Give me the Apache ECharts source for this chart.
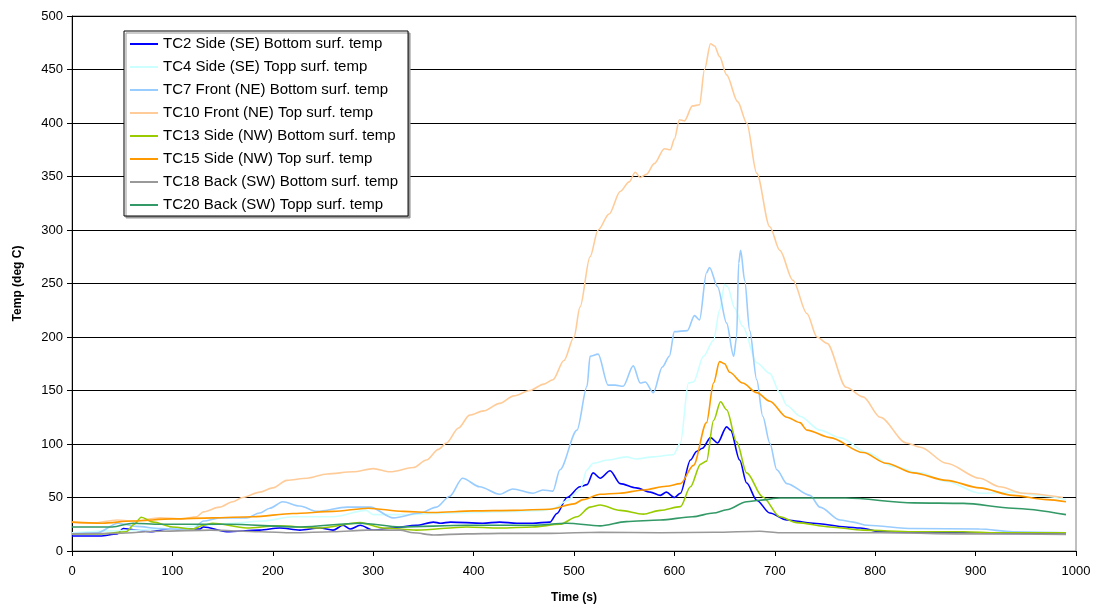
<!DOCTYPE html>
<html>
<head>
<meta charset="utf-8">
<script src="https://cdn.jsdelivr.net/npm/echarts@6/dist/echarts.min.js"></script>
<style>html,body{margin:0;padding:0;background:#fff}#c{width:1097px;height:611px}</style>
</head>
<body>
<div id="c"></div>
<script>
// Series names
const names = [
  'TC2 Side (SE) Bottom surf. temp',
  'TC4 Side (SE) Topp surf. temp',
  'TC7 Front (NE) Bottom surf. temp',
  'TC10 Front (NE) Top surf. temp',
  'TC13 Side (NW) Bottom surf. temp',
  'TC15 Side (NW) Top surf. temp',
  'TC18 Back (SW) Bottom surf. temp',
  'TC20 Back (SW) Topp surf. temp'
];

// TC2
const tc2T = [0,28,45,51,64,78,98,127,131,154,187,207,227,247,260,270,277,287,300,320,343,360,367,377,409,426,443,459,476,483,493,506,513,519,526,536,546,562,576,586,592,600,606,616,622,628,636,643,652,656,665,672,682,695,712,738,771,785,805,871,937,990];
const tc2V = [14,14,16,21,19.5,18,21,20.5,22.5,18,19.5,21.5,19.5,21.5,19.5,24,20.5,24,19.5,21.5,24,27,26,27,26,27,26,26,27,35,50,60,62,73,68,75,63,59,55,52,55,50,54,85,93,96,106,101,116,113,85,63.5,47.5,35.5,29,26,22.5,21.5,18,17,16.5,16];
// TC4
const tc4T = [0,50,100,130,160,190,220,260,293,300,330,360,400,440,470,480,493,506,513,519,533,552,562,579,599,606,614,619,629,639,645,650,653,660,668,682,695,705,712,725,745,765,792,818,845,871,904,937,971,990];
const tc4V = [17,19,21,24,26,28,32,32,38,34,34,35,36,37,38,40,47,57,76,82,85,88,86,88,90,101,157,158,182,197,225,249,247,227,210,176,166,148,136,126,113,106,92,79,73,65,54,55,51,48];
// TC7
const tc7T = [0,25,46,64,88,120,131,147,174,187,197,210,227,244,274,297,320,347,363,376,389,406,426,439,459,469,479,486,503,513,516,524,534,541,549,559,566,571,579,588,595,600,613,620,625,632,635,643,652,659,662,664,666,670,675,682,688,695,702,712,735,745,765,778,792,838,904,937,990];
const tc7V = [16,17,26,23,21,20,28,31,31,35.5,40,46,42,37,41,41,31,35.5,41,51,68,60,53,58,54,57,56,76,113,154,182,184,155,155,154,173,157,158,148,172,182,205,206,220,216,260,265,247,213,182,200,269,281,253,206,160,126,101,76,63,52,41,29,27,24,21,20.5,18,17];
// TC10
const tc10T = [0,20,45,60,88,110,124,131,147,160,170,187,200,214,234,254,280,300,317,340,353,365,373,385,396,410,426,440,456,470,479,490,500,506,516,524,535,546,555,561,566,572,580,590,596,600,605,610,618,625,630,636,640,645,652,663,672,682,695,705,718,732,742,752,771,788,805,831,845,871,904,924,947,987];
const tc10V = [27,26,29,28,31,30,32,36.6,41,46,50,55,59,66,68,72,74,77,74,78,85,95,101,115,127,131,138,145,150,156,160,178,200,228,275,300,315,336,345,354,349,352,362,376,375,385,403,402,416,417,450,474,472,462,445,420,400,353,303,281,253,222,200,194,153,144,125,101,97,82,68,60,54,50];
// TC13
const tc13T = [0,30,54,62,69,81,100,120,131,140,174,204,247,287,310,343,393,426,459,486,503,516,526,546,569,586,606,616,626,632,639,646,652,662,672,688,705,722,755,788,838,888,921,990];
const tc13V = [16,16,18,25,31.5,27,22.5,20.5,24,26,21.5,23.5,21.5,26.5,21.5,19.5,22.5,21.5,22.5,25,32,41,43,38,34.5,38,41.5,60,81,84,122,139.5,132,102,73,50.5,32,26.5,22.5,19.5,18,18,17,17];
// TC15
const tc15T = [0,30,60,100,140,180,220,260,295,330,360,400,440,476,500,509,526,545,569,592,606,619,632,639,645,650,655,668,682,695,712,725,732,755,788,811,838,871,904,937,971,990];
const tc15V = [27,26,28,30,31,32,35,37,40,37,36,37.5,38,39,44,48,53,54,57,60.5,63,80,120,157,177,175,167,157,148,140,125,120,113,106,92,82,73,66,59,52,48,46];
// TC18
const tc18T = [0,45,88,138,187,220,260,294,327,340,360,393,426,476,526,586,640,685,705,805,900,990];
const tc18V = [16,16.5,18.5,19.5,18,17,18,19.5,19.5,17,15,16,16.5,16.5,17.5,17,17.5,18.5,17,17,16,15.5];
// TC20
const tc20T = [0,40,61,88,154,227,287,327,393,459,493,526,552,586,618,639,652,672,685,705,771,838,888,937,990];
const tc20V = [22.5,22.5,26,25,25,22.5,26,22.5,24,24,26,23.5,27.5,29,32,35.5,38.5,46,47.5,49.5,49.5,45,44.5,40,34];

const xTicks = [0,100,200,300,400,500,600,700,800,900,1000];
const yTicks = [0,50,100,150,200,250,300,350,400,450,500];

const colors = ['#0000FF','#CCFFFF','#99CCFF','#FFCC99','#99CC00','#FF9900','#999999','#339966'];
const Ts = [tc2T,tc4T,tc7T,tc10T,tc13T,tc15T,tc18T,tc20T];
const Vs = [tc2V,tc4V,tc7V,tc10V,tc13V,tc15V,tc18V,tc20V];

const series = names.map((n,i)=>({
  name:n, type:'line', showSymbol:false, smooth:0.3, smoothMonotone:'x',
  data: Ts[i].map((t,k)=>[t,Vs[i][k]]),
  lineStyle:{color:colors[i], width:1.6},
  itemStyle:{color:colors[i]},
  animation:false
}));

const chart = echarts.init(document.getElementById('c'));
chart.setOption({
  animation:false,
  backgroundColor:'#fff',
  grid:{left:72,right:21,top:16,bottom:60,show:true,borderColor:'#808080',borderWidth:1},
  legend:{
    orient:'vertical', left:124, top:31,
    itemWidth:28, itemHeight:2, itemGap:7, icon:'rect',
    padding:[5,10,3,6],
    backgroundColor:'#fff', borderColor:'#000', borderWidth:1,
    shadowColor:'#999', shadowOffsetX:2, shadowOffsetY:2, shadowBlur:0,
    textStyle:{fontFamily:'Liberation Sans, Arial', fontSize:15, color:'#000', lineHeight:16},
    data:names
  },
  xAxis:{
    type:'value', min:xTicks[0], max:xTicks[xTicks.length-1], interval:100,
    name:'Time (s)', nameLocation:'middle', nameGap:41,
    nameTextStyle:{fontFamily:'Liberation Sans, Arial', fontWeight:'bold', fontSize:12, color:'#000'},
    axisLine:{lineStyle:{color:'#000',width:1}},
    axisTick:{show:true,length:5,lineStyle:{color:'#000'}},
    axisLabel:{fontFamily:'Liberation Sans, Arial', fontSize:13, color:'#000', margin:14, formatter:v=>String(v)},
    splitLine:{show:false}
  },
  yAxis:{
    type:'value', min:yTicks[0], max:yTicks[yTicks.length-1], interval:50,
    name:'Temp (deg C)', nameLocation:'middle', nameGap:48,
    nameTextStyle:{fontFamily:'Liberation Sans, Arial', fontWeight:'bold', fontSize:12, color:'#000'},
    axisLine:{show:true,lineStyle:{color:'#000',width:1}},
    axisTick:{show:true,length:5,lineStyle:{color:'#000'}},
    axisLabel:{fontFamily:'Liberation Sans, Arial', fontSize:13, color:'#000', margin:9, formatter:v=>String(v)},
    splitLine:{show:true,lineStyle:{color:'#000',width:1}}
  },
  series:series
});
</script>
</body>
</html>
